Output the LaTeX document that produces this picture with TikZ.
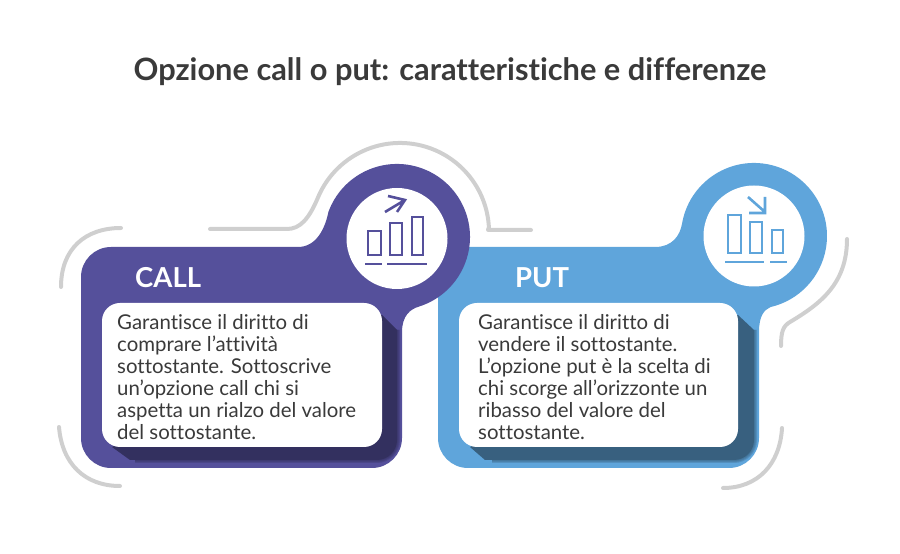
\documentclass[tikz,border=0pt]{standalone}
\usepackage{fontspec}
\setmainfont[Ligatures=NoCommon]{Lato}
\definecolor{callcol}{HTML}{55509B}
\definecolor{calldark}{HTML}{33305F}
\definecolor{putcol}{HTML}{5FA5DB}
\definecolor{putdark}{HTML}{38607F}
\definecolor{greyline}{HTML}{CFCFCF}
\definecolor{inkcol}{HTML}{3A3A3A}
\tikzset{
	greyarc/.style={draw=greyline,line width=4pt,line cap=round,line join=round},
	whitebox/.style={fill=white,rounded corners=18pt},
	boxtext/.style={anchor=north west,align=left,inner sep=0pt,text=inkcol,font=\fontsize{20.4}{22.05}\selectfont},
	headtext/.style={anchor=base west,inner sep=0pt,text=white,font=\fontsize{27.5}{30}\selectfont\bfseries},
	iconline/.style={line width=2.6pt}
}
\newcommand{\softshadow}[1]{%
	\foreach \w in {2,4,6}
		\draw[#1,opacity=0.3,line width=\w pt,rounded corners=20pt] (135,94) -- (397,94) -- (397,224);
}
\begin{document}
\begin{tikzpicture}[x=1pt,y=1pt]
	\useasboundingbox (0,0) rectangle (900,554);
	% Title
	\node[anchor=base,inner sep=0pt,text=inkcol,font=\fontsize{30.8}{33}\selectfont\bfseries] (title) at (450,473.5) {Opzione call o put: caratteristiche e differenze};
	% Grey arcs
	\draw[greyarc] (121,326) .. controls (85,326) and (61,305) .. (61,267);
	\draw[greyarc] (210,325) -- (287,325) .. controls (300,325) and (309,335) .. (318.1,356.8) arc[start angle=157,end angle=3,radius=89] -- (488,324) -- (531,324);
	\draw[greyarc] (847,315) .. controls (847,270) and (820,250) .. (790,232) .. controls (783,228) and (781,222) .. (781,208);
	\draw[greyarc] (59,127) .. controls (62,90) and (85,68) .. (120,68);
	\draw[greyarc] (782,126) .. controls (780,90) and (758,66) .. (723,66);
	% Put panel
	\fill[putcol] (468,307) -- (655,307) .. controls (672,307) and (680,318) .. (682.1,330.7) arc[start angle=170,end angle=-77,radius=73] .. controls (764,244) and (759,238) .. (759,222) -- (759,116) arc[start angle=0,end angle=-90,radius=30] -- (468,86) arc[start angle=270,end angle=180,radius=30] -- (438,277) arc[start angle=180,end angle=90,radius=30] -- cycle;
	\begin{scope}[xshift=357pt]
		\softshadow{putdark}
	\end{scope}
	\fill[putdark] (470,107) -- (485,94) [rounded corners=20pt] -- (754,94) [sharp corners] -- (754,224) -- (738,239) -- cycle;
	\fill[whitebox] (459,107) rectangle (738,251);
	\fill[white] (754,318) circle (50.5);
	% Call panel
	\fill[callcol] (111,307) -- (298,307) .. controls (316,307) and (325,325) .. (328.4,342) arc[start angle=160,end angle=-72,radius=73] .. controls (410,245) and (402,238) .. (402,222) -- (402,116) arc[start angle=0,end angle=-90,radius=30] -- (111,86) arc[start angle=270,end angle=180,radius=30] -- (81,277) arc[start angle=180,end angle=90,radius=30] -- cycle;
	\softshadow{calldark}
	\fill[calldark] (112,107) -- (130,94) [rounded corners=20pt] -- (397,94) [sharp corners] -- (397,224) -- (382,239) -- cycle;
	\fill[whitebox] (102,107) rectangle (382,251);
	\fill[white] (397,315.5) circle (50.5);
	% Call icon
	\foreach \xa/\xb/\ytop in {368/381/323,390/402/331,412/423/337}
		\draw[callcol,iconline] (\xa,299) rectangle (\xb,\ytop);
	\draw[callcol,iconline] (365,290) -- (382,290) (387,290) -- (427,290);
	\draw[callcol,iconline] (385,342) -- (405,354) (388,358) -- (405,354) -- (397,342);
	% Put icon
	\foreach \xa/\xb/\ytop in {728/741/339,750/762/332,772/783/324}
		\draw[putcol,iconline] (\xa,301) rectangle (\xb,\ytop);
	\draw[putcol,iconline] (725,292) -- (764,292) (770,292) -- (787,292);
	\draw[putcol,iconline] (748,357) -- (765,342) (765,357) -- (765,341) -- (749,341);
	% Labels
	\node[headtext] (callhead) at (135,266.5) {CALL};
	\node[headtext] (puthead) at (515,266.5) {PUT};
	\node[boxtext] (calltext) at (117,240) {Garantisce il diritto di\\comprare l’attività\\sottostante. Sottoscrive\\un’opzione call chi si\\aspetta un rialzo del valore\\del sottostante.};
	\node[boxtext] (puttext) at (478,240) {Garantisce il diritto di\\vendere il sottostante.\\L’opzione put è la scelta di\\chi scorge all’orizzonte un\\ribasso del valore del\\sottostante.};
\end{tikzpicture}
\end{document}
